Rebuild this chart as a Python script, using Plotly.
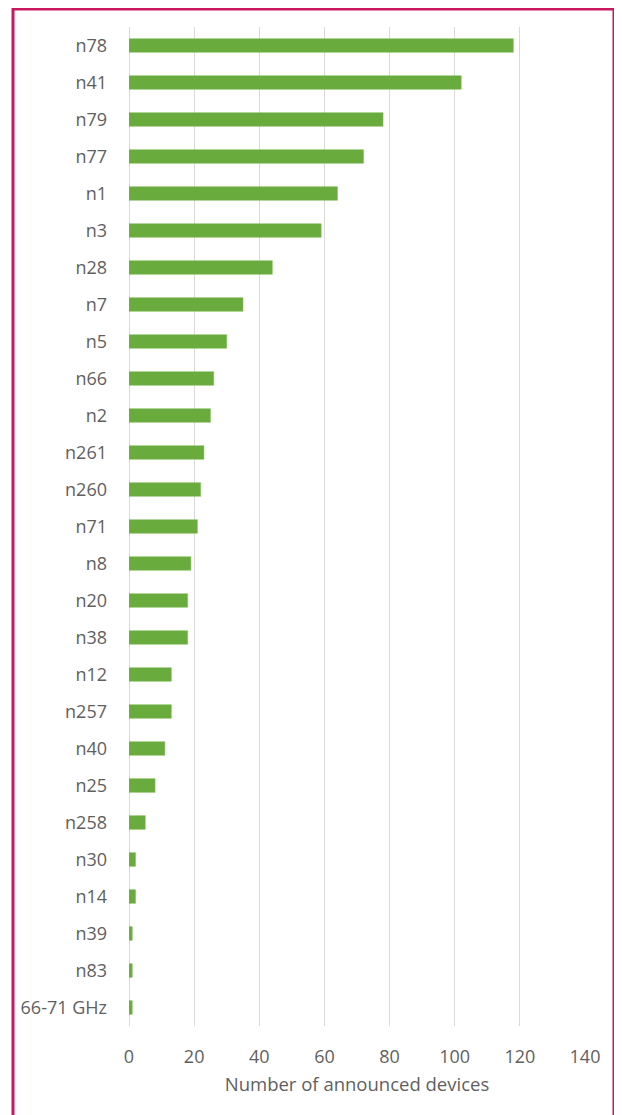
import plotly.graph_objects as go

bands = ["n78", "n41", "n79", "n77", "n1", "n3", "n28", "n7", "n5", "n66", "n2",
         "n261", "n260", "n71", "n8", "n20", "n38", "n12", "n257", "n40", "n25",
         "n258", "n30", "n14", "n39", "n83", "66-71 GHz"]
devices = [118, 102, 78, 72, 64, 59, 44, 35, 30, 26, 25,
           23, 22, 21, 19, 18, 18, 13, 13, 11, 8,
           5, 2, 2, 1, 1, 1]
x_ticks = [0, 20, 40, 60, 80, 100, 120, 140]

# page body has an 8px margin; compensate so the figure lands at screen coords
OFF = 8
W, H = 622 - OFF, 1115 - OFF
L, R, T, B = 129 - OFF, 37, 27 - OFF, 89

fig = go.Figure(go.Bar(
    x=devices, y=bands, orientation="h",
    marker=dict(color="#6aab3e", line=dict(color="#7cbb52", width=0.5)),
    width=0.37,
))

pw = W - L - R
ph = H - T - B
bottom_px = H - B  # plot bottom in figure coords


def px_x(x):
    return (x - OFF - L) / pw


def px_y(y):
    return (bottom_px - (y - OFF)) / ph


fig.add_shape(type="rect", xref="paper", yref="paper",
              x0=px_x(13), x1=px_x(614),
              y0=px_y(1140), y1=px_y(9),
              line=dict(color="#c8175d", width=3), fillcolor="rgba(0,0,0,0)", layer="above")

fig.update_layout(
    width=W, height=H,
    margin=dict(l=L, r=R, t=T, b=B),
    plot_bgcolor="white", paper_bgcolor="white",
    font=dict(family="Open Sans", color="#5f5f5f", size=18),
    showlegend=False,
    xaxis=dict(range=[0, 140], tickvals=x_ticks, showgrid=True, gridcolor="#d9d9d9",
               gridwidth=1, zeroline=True, zerolinecolor="#d9d9d9", zerolinewidth=1,
               showline=False, ticks="", ticklabelstandoff=18,
               tickfont=dict(size=18, color="#5f5f5f"),
               title=dict(text="Number of announced devices", standoff=11,
                          font=dict(size=18.5, color="#5f5f5f"))),
    yaxis=dict(autorange="reversed", showgrid=False, showline=False, ticks="",
               ticklabelstandoff=21, tickfont=dict(size=18, color="#5f5f5f")),
)

fig.write_html("out.html")
